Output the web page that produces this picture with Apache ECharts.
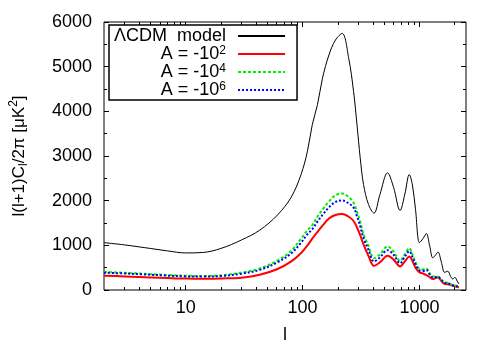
<!DOCTYPE html>
<html>
<head>
<meta charset="utf-8">
<script src="https://cdn.jsdelivr.net/npm/echarts@6/dist/echarts.min.js"></script>
<style>
  html, body { margin: 0; padding: 0; background: #fff; }
  #chart { width: 498px; height: 349px; }
</style>
</head>
<body>
<div id="chart"></div>
<script>
// multipole l (shared by every curve)
const ell = [2, 3, 4, 5, 7, 10, 14, 20, 30, 43, 61, 80, 97, 110, 121, 134, 148, 168, 191, 218,
  248, 273, 292, 311, 332, 366, 408, 459, 533, 600, 682, 750, 818, 870, 925, 1000, 1070, 1145,
  1220, 1300, 1370, 1440, 1540, 1640, 1745, 1850, 1925, 2010, 2100, 2180];

const lcdm = [1060, 1010, 965, 930, 875, 830, 840, 930, 1120, 1340, 1680, 2080, 2586, 3106, 3701,
  4147, 4742, 5262, 5596, 5745, 5188, 4444, 3701, 2959, 2363, 1917, 1720, 2140, 2624, 2300, 1780,
  2150, 2586, 2350, 1800, 1060, 1150, 1264, 1000, 720, 780, 850, 620, 395, 420, 300, 245, 283, 200, 134];

const a1e2 = [320, 305, 292, 282, 268, 255, 250, 258, 275, 340, 470, 640, 830, 1000, 1150, 1300,
  1440, 1600, 1680, 1700, 1640, 1545, 1400, 1230, 1020, 765, 540, 620, 765, 680, 528, 640, 751,
  650, 500, 395, 370, 334, 290, 245, 265, 283, 200, 134, 130, 111, 95, 85, 70, 60];

const a1e4 = [405, 385, 370, 355, 335, 320, 315, 330, 390, 480, 660, 880, 1150, 1340, 1450, 1640,
  1800, 1980, 2120, 2163, 2080, 1955, 1750, 1530, 1250, 988, 710, 800, 974, 860, 653, 800, 936,
  800, 620, 470, 460, 484, 380, 305, 300, 305, 230, 172, 165, 130, 110, 100, 90, 82];

const a1e6 = [388, 370, 355, 342, 322, 305, 300, 312, 365, 450, 620, 820, 1060, 1250, 1360, 1530,
  1680, 1850, 1970, 2007, 1940, 1844, 1650, 1430, 1160, 900, 640, 730, 892, 790, 600, 750, 870,
  740, 570, 440, 425, 450, 350, 285, 285, 295, 220, 160, 155, 122, 105, 95, 85, 75];

const xMajor = [10, 100, 1000];
const xMinor = [3, 4, 5, 6, 7, 8, 9, 20, 30, 40, 50, 60, 70, 80, 90,
  200, 300, 400, 500, 600, 700, 800, 900, 2000];
const xRange = [2, 2500];

const seriesNames = ['\u039BCDM  model', 'A = -10^2', 'A = -10^4', 'A = -10^6'];
const legendText = {
  '\u039BCDM  model': '{t|\u039BCDM  model}',
  'A = -10^2': '{t|A = -10}{s|2}',
  'A = -10^4': '{t|A = -10}{s|4}',
  'A = -10^6': '{t|A = -10}{s|6}'
};

const FONT = '"Liberation Sans", Arial, sans-serif';
const lg = v => Math.log10(v);
const toPts = vals => ell.map((l, i) => [lg(l), vals[i]]);

const chart = echarts.init(document.getElementById('chart'));

function xAxisDef(pos, ticks, len, labels) {
  return {
    type: 'value',
    position: pos,
    min: lg(xRange[0]),
    max: lg(xRange[1]),
    axisLine: { show: false },
    splitLine: { show: false },
    axisTick: {
      show: true, inside: true, length: len,
      customValues: ticks.map(lg),
      lineStyle: { color: '#000', width: 1 }
    },
    axisLabel: labels ? {
      show: true,
      customValues: xMajor.map(lg),
      formatter: v => String(Math.round(Math.pow(10, v))),
      color: '#000', fontSize: 18, fontFamily: FONT, margin: 9
    } : { show: false },
    name: labels ? 'l' : '',
    nameLocation: 'middle',
    nameGap: 36,
    nameTextStyle: { color: '#000', fontSize: 18, fontFamily: FONT }
  };
}

function yAxisDef(pos, labels) {
  return {
    type: 'value',
    position: pos,
    min: 0, max: 6000, interval: 1000,
    axisLine: { show: false },
    splitLine: { show: false },
    axisTick: { show: true, inside: true, length: 5, lineStyle: { color: '#000' } },
    minorTick: { show: true, splitNumber: 2, length: 3, lineStyle: { color: '#000' } },
    axisLabel: labels ? {
      color: '#000', fontSize: 18, fontFamily: FONT, margin: 12,
      formatter: v => String(v)
    } : { show: false },
    name: labels ? '{n|l(l+1)C}{b|l}{n|/2\u03C0 [\u03BCK}{p|2}{n|]}' : '',
    nameLocation: 'middle',
    nameGap: 74,
    nameTextStyle: {
      color: '#000', fontFamily: FONT,
      rich: {
        n: { fontSize: 17, fontFamily: FONT, color: '#000', lineHeight: 22, verticalAlign: 'middle' },
        b: { fontSize: 12, fontFamily: FONT, color: '#000', lineHeight: 22, verticalAlign: 'bottom' },
        p: { fontSize: 12, fontFamily: FONT, color: '#000', lineHeight: 22, verticalAlign: 'top' }
      }
    }
  };
}

const lineStyles = [
  { color: '#000000', width: 1, type: 'solid' },
  { color: '#ff0000', width: 2, type: 'solid' },
  { color: '#00ee00', width: 2, type: [3, 2] },
  { color: '#0000ff', width: 2, type: [2, 2] }
];
const values = [lcdm, a1e2, a1e4, a1e6];

chart.setOption({
  animation: false,
  backgroundColor: '#fff',
  grid: {
    left: 99, right: 32, top: 22, bottom: 58,
    show: true, borderColor: '#000', borderWidth: 1, backgroundColor: 'transparent'
  },
  legend: {
    orient: 'vertical',
    left: 109, top: 25,
    align: 'right',
    padding: [2, 11, 1, 5],
    itemGap: 0,
    itemWidth: 47,
    itemHeight: 18,
    borderColor: '#000',
    borderWidth: 1.5,
    backgroundColor: '#fff',
    data: seriesNames,
    itemStyle: { opacity: 0 },
    formatter: name => legendText[name],
    textStyle: {
      width: 113,
      align: 'right',
      padding: [0, 7, 0, 0],
      color: '#000',
      fontFamily: FONT,
      rich: {
        t: { fontSize: 18, fontFamily: FONT, color: '#000', lineHeight: 18, verticalAlign: 'bottom' },
        s: { fontSize: 12, fontFamily: FONT, color: '#000', lineHeight: 18, verticalAlign: 'top', padding: [0, 0, 6, 0] }
      }
    }
  },
  xAxis: [
    xAxisDef('bottom', xMajor, 5, true),
    xAxisDef('bottom', xMinor, 3, false),
    xAxisDef('top', xMajor, 5, false),
    xAxisDef('top', xMinor, 3, false)
  ],
  yAxis: [yAxisDef('left', true), yAxisDef('right', false)],
  series: seriesNames.map((name, i) => ({
    name: name,
    type: 'line',
    xAxisIndex: 0,
    yAxisIndex: 0,
    data: toPts(values[i]),
    smooth: 0.35,
    symbol: 'none',
    showSymbol: false,
    lineStyle: lineStyles[i],
    itemStyle: { color: lineStyles[i].color },
    z: 2 + i
  }))
});
</script>
</body>
</html>
